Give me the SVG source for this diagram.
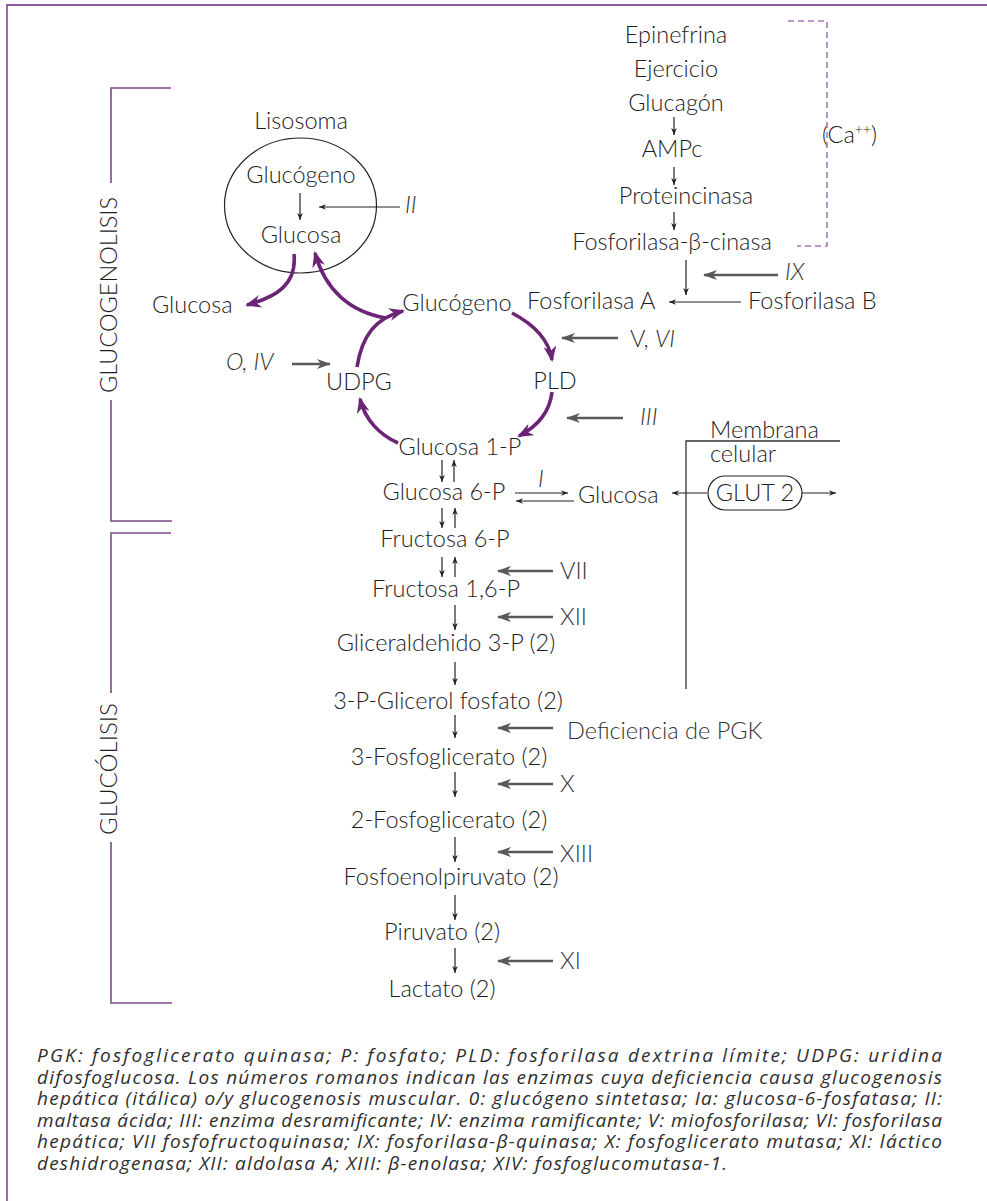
<svg xmlns="http://www.w3.org/2000/svg" width="987" height="1201" viewBox="0 0 987 1201">
<style>
text{font-family:Lato,"Noto Sans","Liberation Sans",sans-serif;font-weight:300;fill:#1e1e1e;font-size:23.5px}
.m{text-anchor:middle}
.it{font-style:italic}
.en{fill:#333}
.cap{font-family:"Open Sans","Noto Sans","Liberation Sans",sans-serif;font-weight:400;font-size:19px;font-style:italic;fill:#2e2e2e}
.side{font-size:23px;fill:#1e1e1e}
.thin{stroke:#222;stroke-width:1.2;fill:none;marker-end:url(#ah)}
.gray{stroke:#595959;stroke-width:2.6;fill:none;marker-end:url(#gh)}
.pur{stroke:#6c2477;stroke-width:3.6;fill:none;marker-end:url(#ph)}
.brk{stroke:#7b4a89;stroke-width:1.6;fill:none}
</style>
<defs>
<marker id="ah" viewBox="0 0 10 8" refX="10" refY="4" markerWidth="7" markerHeight="5.6" markerUnits="userSpaceOnUse" orient="auto"><path d="M0,0 L10,4 L0,8 L3,4z" fill="#222"/></marker>
<marker id="gh" viewBox="0 0 14 10" refX="13" refY="5" markerWidth="14" markerHeight="10" markerUnits="userSpaceOnUse" orient="auto"><path d="M0,0 L14,5 L0,10 L4,5z" fill="#595959"/></marker>
<marker id="ph" viewBox="0 0 16 13" refX="14" refY="6.5" markerWidth="16" markerHeight="13" markerUnits="userSpaceOnUse" orient="auto"><path d="M0,0 L16,6.5 L0,13 L5,6.5z" fill="#6c2477"/></marker>
</defs>
<rect width="987" height="1201" fill="#fff"/>
<g id="frame"><path d="M987,5 H7 V1201" stroke="#8e5c9e" stroke-width="1.8" fill="none"/></g>
<g id="bracket-glucogenolisis">
<path class="brk" d="M171,88 H111 V183 M111,400 V521 H172"/>
<text class="side" transform="translate(117,295) rotate(-90)" text-anchor="middle" textLength="196" lengthAdjust="spacingAndGlyphs">GLUCOGENOLISIS</text>
</g>
<g id="bracket-glucolisis">
<path class="brk" d="M171,533 H111 V693 M111,842 V1003 H172"/>
<text class="side" transform="translate(117,769) rotate(-90)" text-anchor="middle" textLength="132" lengthAdjust="spacingAndGlyphs">GLUCÓLISIS</text>
</g>
<g id="lisosoma">
<text class="m" x="301" y="129">Lisosoma</text>
<ellipse cx="300.5" cy="205.5" rx="76" ry="67.5" fill="none" stroke="#222" stroke-width="1.2"/>
<text class="m" x="301" y="183">Glucógeno</text>
<text class="m" x="301" y="243">Glucosa</text>
</g>
<g id="enzyme-II"><text class="it en" x="405" y="213">II</text></g>
<g id="glucosa-out"><text x="152" y="313">Glucosa</text></g>
<g id="glucogeno"><text class="m" x="457" y="311">Glucógeno</text></g>
<g id="fosforilasa-a"><text x="527" y="309">Fosforilasa A</text></g>
<g id="fosforilasa-b"><text x="748" y="309">Fosforilasa B</text></g>
<g id="epinefrina"><text class="m" x="676" y="43">Epinefrina</text></g>
<g id="ejercicio"><text class="m" x="676" y="77">Ejercicio</text></g>
<g id="glucagon"><text class="m" x="676" y="111">Glucagón</text></g>
<g id="ampc"><text class="m" x="672" y="157">AMPc</text></g>
<g id="proteincinasa"><text class="m" x="686" y="204">Proteincinasa</text></g>
<g id="fbc"><text class="m" x="672" y="250">Fosforilasa-β-cinasa</text></g>
<g id="calcio"><text x="822" y="143">(Ca<tspan font-size="14" dy="-9">++</tspan><tspan dy="9">)</tspan></text></g>
<g id="enzyme-IX"><text class="it en" x="785" y="280">IX</text></g>
<g id="enzyme-V-VI"><text class="en" x="630" y="347">V, <tspan class="it">VI</tspan></text></g>
<g id="enzyme-O-IV"><text class="it en" x="226" y="370">O, IV</text></g>
<g id="udpg"><text class="m" x="359" y="390">UDPG</text></g>
<g id="pld"><text class="m" x="555" y="389">PLD</text></g>
<g id="enzyme-III"><text class="it en" x="640" y="425">III</text></g>
<g id="glucosa-1p"><text class="m" x="460" y="455">Glucosa 1-P</text></g>
<g id="glucosa-6p"><text class="m" x="444" y="500">Glucosa 6-P</text></g>
<g id="enzyme-I"><text class="it en" x="538" y="487">I</text></g>
<g id="glucosa-r"><text x="578" y="503">Glucosa</text></g>
<g id="membrana">
<path d="M686,689 V441 H840" stroke="#333" stroke-width="1.3" fill="none"/>
<text x="710" y="438" font-size="22.5">Membrana</text>
<text x="710" y="462" font-size="22.5">celular</text>
</g>
<g id="glut2">
<rect x="708" y="476" width="94" height="34" rx="17" fill="none" stroke="#222" stroke-width="1.2"/>
<text class="m" x="755" y="501">GLUT 2</text>
</g>
<g id="fructosa-6p"><text class="m" x="445" y="547">Fructosa 6-P</text></g>
<g id="fructosa-16p"><text class="m" x="446" y="597">Fructosa 1,6-P</text></g>
<g id="gliceraldehido"><text class="m" x="446" y="651">Gliceraldehido 3-P (2)</text></g>
<g id="glicerol"><text class="m" x="448" y="709">3-P-Glicerol fosfato (2)</text></g>
<g id="3pg"><text class="m" x="449" y="765">3-Fosfoglicerato (2)</text></g>
<g id="2pg"><text class="m" x="449" y="828">2-Fosfoglicerato (2)</text></g>
<g id="pep"><text class="m" x="451" y="885">Fosfoenolpiruvato (2)</text></g>
<g id="piruvato"><text class="m" x="442" y="940">Piruvato (2)</text></g>
<g id="lactato"><text class="m" x="442" y="997">Lactato (2)</text></g>
<g id="enzyme-VII"><text class="en" x="560" y="579">VII</text></g>
<g id="enzyme-XII"><text class="en" x="560" y="625">XII</text></g>
<g id="pgk"><text class="en" x="567" y="739">Deficiencia de PGK</text></g>
<g id="enzyme-X"><text class="en" x="560" y="792">X</text></g>
<g id="enzyme-XIII"><text class="en" x="560" y="862">XIII</text></g>
<g id="enzyme-XI"><text class="en" x="560" y="969">XI</text></g>
<g id="connectors">
<path d="M788,21 H827 V246 H797" stroke="#a877b8" stroke-width="1.6" stroke-dasharray="6,4" fill="none"/>
<path class="pur" d="M294,254 C297,285 276,297 247,305"/>
<path class="pur" d="M386,318 C350,312 325,290 315,253"/>
<path class="pur" d="M357,367 C362,335 376,318 403,311"/>
<path class="pur" d="M512,313 C535,325 549,340 552,360"/>
<path class="pur" d="M552,392 C550,410 540,425 519,436"/>
<path class="pur" d="M398,443 C380,435 365,420 360,399"/>
<path class="thin" d="M300,193 V220"/>
<path class="thin" d="M400,207 H319"/>
<path class="thin" d="M674,117 V135"/>
<path class="thin" d="M674,167 V185"/>
<path class="thin" d="M674,212 V230"/>
<path class="thin" d="M686,260 V295"/>
<path class="thin" d="M741,302 H669"/>
<path class="thin" d="M442,460 V482"/>
<path class="thin" d="M454,482 V460"/>
<path class="thin" d="M442,508 V528"/>
<path class="thin" d="M455,528 V508"/>
<path class="thin" d="M442,557 V577"/>
<path class="thin" d="M455,577 V557"/>
<path class="thin" d="M455,605 V630"/>
<path class="thin" d="M455,662 V685"/>
<path class="thin" d="M455,715 V738"/>
<path class="thin" d="M455,772 V797"/>
<path class="thin" d="M455,837 V862"/>
<path class="thin" d="M455,895 V920"/>
<path class="thin" d="M455,948 V973"/>
<path class="thin" d="M515,493 H568"/>
<path class="thin" d="M574,501 H516"/>
<path class="thin" d="M707,493 H672"/>
<path class="thin" d="M802,493 H836"/>
<path class="gray" d="M778,275 H704"/>
<path class="gray" d="M618,338 H562"/>
<path class="gray" d="M292,364 H330"/>
<path class="gray" d="M623,418 H567"/>
<path class="gray" d="M553,571 H498"/>
<path class="gray" d="M553,617 H498"/>
<path class="gray" d="M553,728 H498"/>
<path class="gray" d="M553,784 H498"/>
<path class="gray" d="M553,852 H498"/>
<path class="gray" d="M553,961 H498"/>
</g>
<g id="caption">
<text class="cap" x="37" y="1062" textLength="905" lengthAdjust="spacing">PGK: fosfoglicerato quinasa; P: fosfato; PLD: fosforilasa dextrina límite; UDPG: uridina</text>
<text class="cap" x="37" y="1083.5" textLength="905" lengthAdjust="spacing">difosfoglucosa. Los números romanos indican las enzimas cuya deficiencia causa glucogenosis</text>
<text class="cap" x="37" y="1105" textLength="905" lengthAdjust="spacing">hepática (itálica) o/y glucogenosis muscular. 0: glucógeno sintetasa; Ia: glucosa-6-fosfatasa; II:</text>
<text class="cap" x="37" y="1126.5" textLength="905" lengthAdjust="spacing">maltasa ácida; III: enzima desramificante; IV: enzima ramificante; V: miofosforilasa; VI: fosforilasa</text>
<text class="cap" x="37" y="1148" textLength="905" lengthAdjust="spacing">hepática; VII fosfofructoquinasa; IX: fosforilasa-β-quinasa; X: fosfoglicerato mutasa; XI: láctico</text>
<text class="cap" x="37" y="1169.5" textLength="690" lengthAdjust="spacing">deshidrogenasa; XII: aldolasa A; XIII: β-enolasa; XIV: fosfoglucomutasa-1.</text>
</g>
</svg>
